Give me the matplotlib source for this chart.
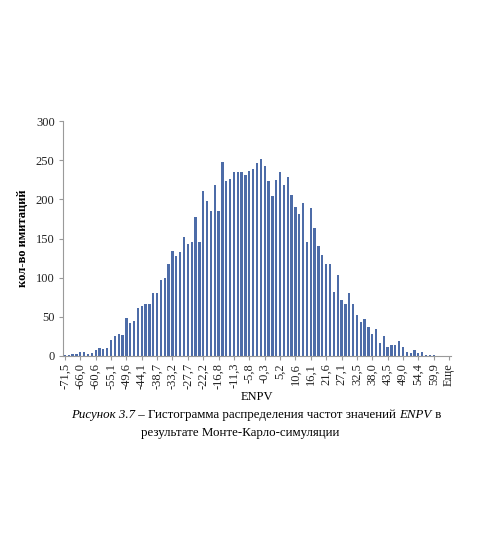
import matplotlib
matplotlib.use("Agg")
import matplotlib.pyplot as plt

# ---- data ----
counts = [1, 1, 2, 3, 5, 5, 2, 4, 8, 10,
          9, 10, 21, 26, 28, 27, 48, 42, 45, 61,
          64, 67, 67, 81, 80, 97, 100, 117, 134, 128,
          133, 152, 143, 146, 178, 146, 210, 198, 185, 218,
          185, 248, 223, 226, 235, 235, 235, 231, 236, 239,
          247, 251, 242, 224, 204, 225, 235, 218, 228, 206,
          190, 181, 195, 146, 189, 164, 140, 129, 117, 117,
          82, 103, 71, 66, 80, 66, 52, 43, 47, 37,
          28, 35, 17, 25, 11, 14, 14, 19, 12, 5,
          4, 8, 4, 5, 1, 1, 1, 0, 0, 0,
          0]
tick_labels = ["-71,5", "-66,0", "-60,6", "-55,1", "-49,6", "-44,1", "-38,7",
               "-33,2", "-27,7", "-22,2", "-16,8", "-11,3", "-5,8", "-0,3",
               "5,2", "10,6", "16,1", "21,6", "27,1", "32,5", "38,0", "43,5",
               "49,0", "54,4", "59,9", "Еще"]
y_ticks = [0, 50, 100, 150, 200, 250, 300]
label_step = 4

plt.rcParams['font.family'] = ['Liberation Serif', 'DejaVu Serif']

W, H = 480, 536
fig = plt.figure(figsize=(W / 100, H / 100), dpi=100)
fig.patch.set_facecolor('white')

left, right, top, bottom = 63, 451, 121, 356
ax = fig.add_axes([left / W, 1 - bottom / H, (right - left) / W, (bottom - top) / H])

x = list(range(len(counts)))
ax.bar(x, counts, width=0.6, color='#4d6ca8', edgecolor='none')

ax.set_xlim(-0.5, len(counts) - 0.5)
ax.set_ylim(0, 300)
ax.set_yticks(y_ticks)
ax.set_yticklabels([str(v) for v in y_ticks], fontsize=9, color='#222222')
ax.set_xticks(x[::label_step])
ax.set_xticklabels(tick_labels, rotation=90, fontsize=9, color='#222222')

for s in ['top', 'right']:
    ax.spines[s].set_visible(False)
for s in ['left', 'bottom']:
    ax.spines[s].set_color('#9a9a9a')
    ax.spines[s].set_linewidth(0.8)
ax.tick_params(axis='y', length=3, width=0.8, color='#9a9a9a', pad=3)
ax.tick_params(axis='x', length=3, width=0.8, color='#9a9a9a', pad=2)

ax.set_xlabel('ENPV', fontsize=9, labelpad=1)
ax.set_ylabel('кол-во имитаций', fontsize=9, fontweight='bold', labelpad=5)

# ---- caption with mixed italic/regular parts ----
fig.canvas.draw()
renderer = fig.canvas.get_renderer()
parts = [("Рисунок 3.7", 'italic'),
         (" – Гистограмма распределения частот значений ", 'normal'),
         ("ENPV", 'italic'),
         (" в", 'normal')]
cap_size = 9.3
y1 = 1 - 415 / H
texts = []
for s, st in parts:
    t = fig.text(0, y1, s, fontsize=cap_size, style=st, va='center', ha='left')
    texts.append(t)
widths = [t.get_window_extent(renderer=renderer).width for t in texts]
total = sum(widths)
start = 256 - total / 2
for t, w in zip(texts, widths):
    t.set_x(start / W)
    start += w
fig.text(240 / W, 1 - 433 / H, "результате Монте-Карло-симуляции",
         fontsize=cap_size, va='center', ha='center')

fig.savefig('out.png', dpi=100, facecolor='white')
